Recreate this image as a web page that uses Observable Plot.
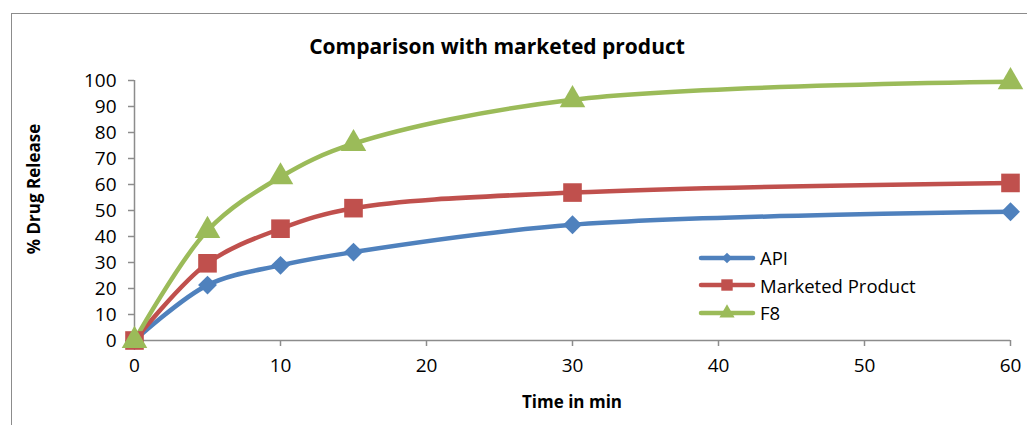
<!DOCTYPE html>
<html>
<head>
<meta charset="utf-8">
<script src="https://cdn.jsdelivr.net/npm/d3@7"></script>
<script src="https://cdn.jsdelivr.net/npm/@observablehq/plot@0.6"></script>
<style>
  html, body { margin: 0; padding: 0; background: #fff; overflow: hidden; }
  #wrap { position: relative; width: 1027px; height: 425px; font-family: "Open Sans", Lato, sans-serif; }
  #frame { position: absolute; left: 11px; top: 13px; width: 1040px; height: 440px; border: 1.5px solid #8c8c8c; box-sizing: border-box; }
  #chart { position: absolute; left: 0; top: 0; }
  .t { position: absolute; font-weight: bold; color: #000; white-space: nowrap; }
  #title { left: 0; width: 994px; text-align: center; top: 32px; font-size: 21px; }
  #xlab { left: 272px; width: 600px; text-align: center; top: 390px; font-size: 17px; }
  #ylab { left: 33px; top: 189px; font-size: 17px; transform: translate(-50%, -50%) rotate(-90deg); }
  #legend { position: absolute; left: 698px; top: 244px; font-size: 18.5px; }
  .row { display: flex; align-items: center; height: 27.5px; }
  .row svg { margin-right: 4px; }
</style>
</head>
<body>
<div id="wrap">
  <div id="frame"></div>
  <div id="chart"></div>
  <div class="t" id="title">Comparison with marketed product</div>
  <div class="t" id="xlab">Time in min</div>
  <div class="t" id="ylab">% Drug Release</div>
  <div id="legend"></div>
</div>
<script>
const times = [0, 5, 10, 15, 30, 60];
const apiValues = [0, 21.3, 28.9, 34.0, 44.5, 49.5];
const marketedValues = [0, 29.7, 43.0, 50.9, 56.9, 60.6];
const f8Values = [0, 42.3, 62.9, 75.7, 92.6, 99.5];
const seriesNames = ["API", "Marketed Product", "F8"];
const seriesColors = ["#4F81BD", "#C0504D", "#9BBB59"];
const seriesSymbols = ["diamond2", "square", "triangle"];
const xTicks = [0, 10, 20, 30, 40, 50, 60];
const yTicks = [0, 10, 20, 30, 40, 50, 60, 70, 80, 90, 100];

const valueSets = [apiValues, marketedValues, f8Values];
const rows = [];
valueSets.forEach((vals, s) => times.forEach((t, i) => rows.push({series: seriesNames[s], time: t, value: vals[i]})));

const symR = {"API": 8.5, "Marketed Product": 10.5, "F8": 9.5};
const marks = [
  Plot.ruleY([0], {stroke: "#8c8c8c", strokeWidth: 1.5}),
  Plot.ruleX([0], {stroke: "#8c8c8c", strokeWidth: 1.5}),
  Plot.axisX({ticks: xTicks, tickSize: 6, tickPadding: 12, fontSize: 18.5, stroke: "#8c8c8c", strokeWidth: 1.5, color: "#000", label: null}),
  Plot.axisY({ticks: yTicks, tickSize: 6, tickPadding: 12, fontSize: 18.5, stroke: "#8c8c8c", strokeWidth: 1.5, color: "#000", label: null}),
];
seriesNames.forEach((name, s) => {
  const data = rows.filter(d => d.series === name);
  marks.push(Plot.line(data, {x: "time", y: "value", stroke: seriesColors[s], strokeWidth: 4.5, curve: "catmull-rom"}));
});
seriesNames.forEach((name, s) => {
  const data = rows.filter(d => d.series === name);
  marks.push(Plot.dot(data, {x: "time", y: "value", symbol: () => seriesSymbols[s], fill: seriesColors[s], stroke: "none", r: symR[name]}));
});

const plot = Plot.plot({
  width: 1027,
  height: 425,
  marginLeft: 134,
  marginRight: 17,
  marginTop: 80,
  marginBottom: 85,
  style: {background: "transparent", fontFamily: "'Open Sans', Lato, sans-serif", color: "#000"},
  x: {domain: [0, 60]},
  y: {domain: [0, 100]},
  symbol: {type: "identity"},
  marks
});
d3.select(plot).selectAll('g[aria-label$="tick label"]').style("font-size", "19px");
document.getElementById("chart").appendChild(plot);

// legend
const legend = document.getElementById("legend");
const legSyms = [d3.symbolDiamond2, d3.symbolSquare, d3.symbolTriangle];
const legSizes = [70, 130, 100];
seriesNames.forEach((name, s) => {
  const row = document.createElement("div");
  row.className = "row";
  const svg = d3.create("svg").attr("width", 58).attr("height", 20);
  svg.append("line").attr("x1", 3).attr("x2", 55).attr("y1", 10).attr("y2", 10)
    .attr("stroke", seriesColors[s]).attr("stroke-width", 4.5).attr("stroke-linecap", "round");
  svg.append("path").attr("d", d3.symbol(legSyms[s], legSizes[s])()).attr("transform", "translate(29,10)")
    .attr("fill", seriesColors[s]);
  row.appendChild(svg.node());
  const span = document.createElement("span");
  span.textContent = name;
  row.appendChild(span);
  legend.appendChild(row);
});
</script>
</body>
</html>
